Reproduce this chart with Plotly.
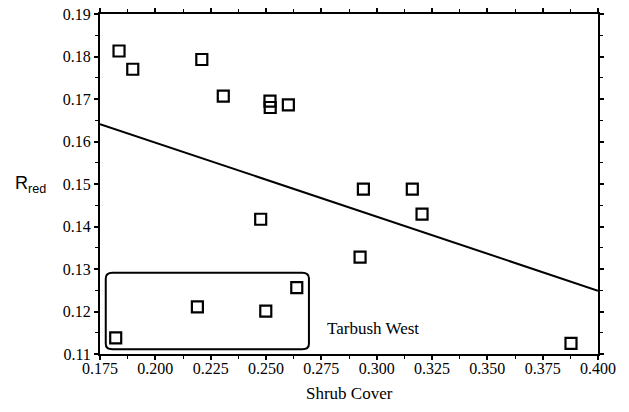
import plotly.graph_objects as go

shrub_cover = [0.1836, 0.1898, 0.2210, 0.2307, 0.2518, 0.2519, 0.2601, 0.2940, 0.3161,
               0.3205, 0.2476, 0.2925, 0.2639, 0.2190, 0.2499, 0.1821, 0.3878]
r_red = [0.1813, 0.1770, 0.1793, 0.1707, 0.1695, 0.1680, 0.1686, 0.1488, 0.1488,
         0.1429, 0.1417, 0.1328, 0.1256, 0.1211, 0.1201, 0.1138, 0.1125]

fit_x = [0.175, 0.400]
fit_y = [0.1641, 0.1249]

box_x = [0.1776, 0.2694]
box_y = [0.1111, 0.1291]

label_text = "Tarbush West"
label_pos = (0.2984, 0.1160)

serif = "'Liberation Serif', 'Times New Roman', Times, serif"

fig = go.Figure()
fig.add_trace(go.Scatter(x=fit_x, y=fit_y, mode="lines",
                         line=dict(color="black", width=2), showlegend=False))
fig.add_trace(go.Scatter(x=shrub_cover, y=r_red, mode="markers",
                         marker=dict(symbol="square-open", size=11, color="black",
                                     line=dict(width=2.2, color="black")),
                         showlegend=False))

# rounded rectangle around Tarbush West points
x0, x1 = box_x
y0, y1 = box_y
rx, ry = 0.003, 0.0013
path = (f"M {x0+rx},{y0} L {x1-rx},{y0} Q {x1},{y0} {x1},{y0+ry} "
        f"L {x1},{y1-ry} Q {x1},{y1} {x1-rx},{y1} L {x0+rx},{y1} "
        f"Q {x0},{y1} {x0},{y1-ry} L {x0},{y0+ry} Q {x0},{y0} {x0+rx},{y0} Z")
fig.add_shape(type="path", path=path, xref="x", yref="y",
              line=dict(color="black", width=2))

fig.add_annotation(x=label_pos[0], y=label_pos[1], text=label_text, showarrow=False,
                   xref="x", yref="y", font=dict(family=serif, size=17, color="black"))

fig.add_annotation(x=-0.14, y=0.5, xref="paper", yref="paper",
                   text="R<sub>red</sub>", showarrow=False, xanchor="center",
                   font=dict(family="'Liberation Sans', Arial, sans-serif", size=18, color="black"))

fig.add_annotation(x=0.5, y=-0.115, xref="paper", yref="paper", yanchor="middle",
                   text="Shrub Cover", showarrow=False,
                   font=dict(family=serif, size=17, color="black"))

axis_common = dict(showgrid=False, zeroline=False, showline=True, linecolor="black",
                   linewidth=2, mirror="ticks", ticks="outside", ticklen=4,
                   tickwidth=1.5, tickcolor="black", automargin=False,
                   tickfont=dict(family=serif, size=16, color="black"))

fig.update_xaxes(range=[0.175, 0.400], dtick=0.025, tick0=0.175, tickformat=".3f",
                 ticklabelstandoff=-5,
                 minor=dict(dtick=0.0125, tick0=0.175, ticks="outside", ticklen=3,
                            tickcolor="black", tickwidth=1),
                 **axis_common)
fig.update_yaxes(range=[0.11, 0.19], dtick=0.01, tick0=0.11, tickformat=".2f",
                 minor=dict(dtick=0.005, tick0=0.11, ticks="outside", ticklen=3,
                            tickcolor="black", tickwidth=1),
                 **axis_common)

fig.update_layout(width=629, height=412, margin=dict(l=100, r=31, t=14, b=58),
                  paper_bgcolor="white", plot_bgcolor="white")

fig.write_html("out.html")
